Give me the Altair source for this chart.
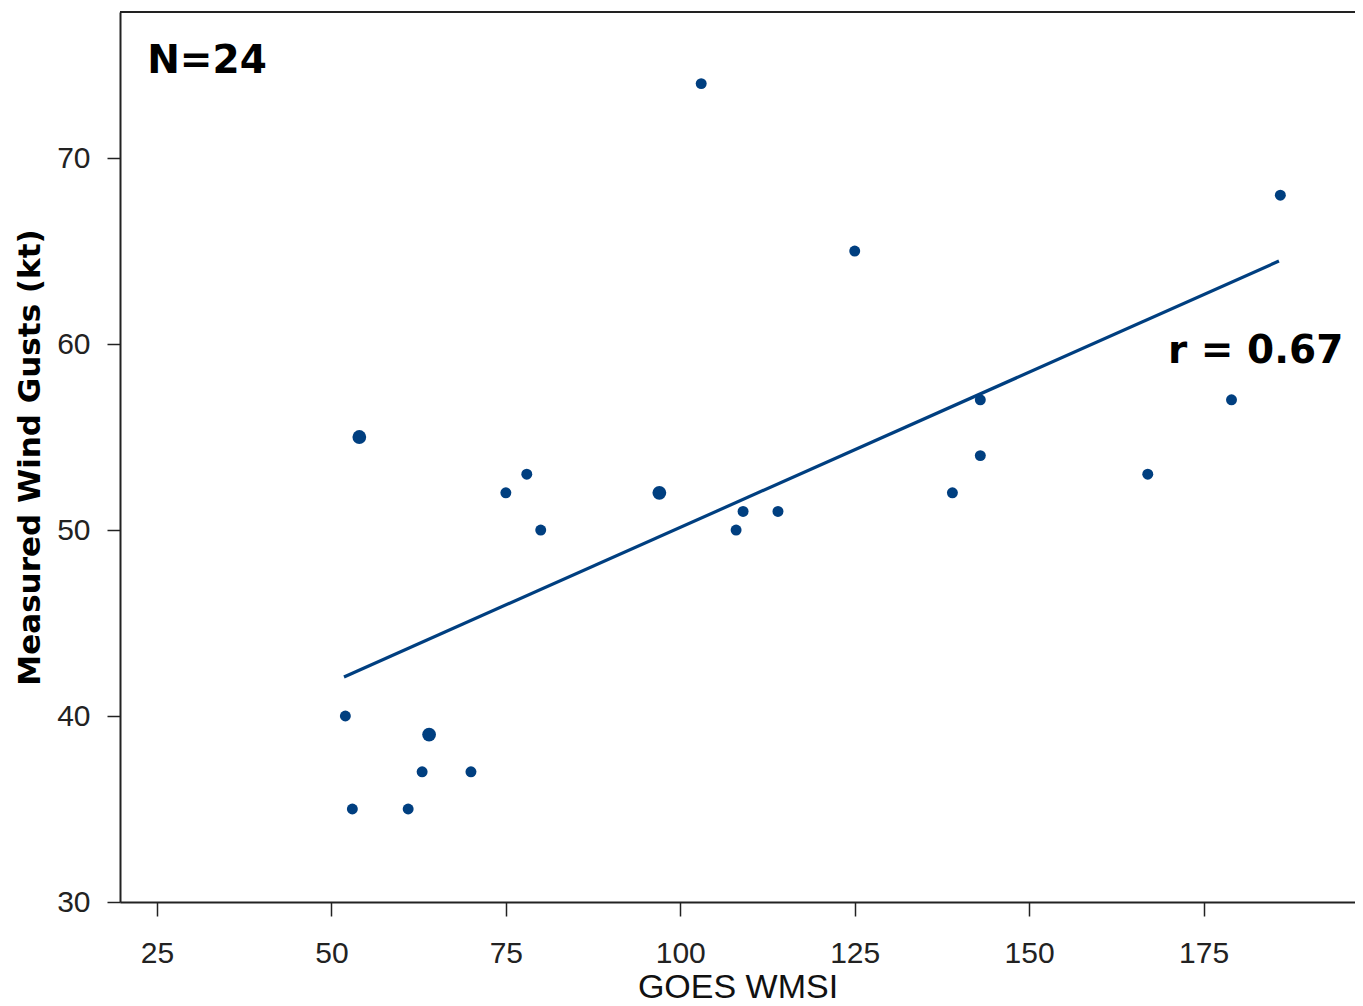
import altair as alt
import pandas as pd

# Scatter data (GOES WMSI vs measured wind gusts)
wmsi = [52, 53, 54, 61, 63, 64, 70, 75, 78, 80, 97, 103, 108, 109, 114, 125, 139, 143, 143, 167, 179, 186]
gust = [40, 35, 55, 35, 37, 39, 37, 52, 53, 50, 52, 74, 50, 51, 51, 65, 52, 57, 54, 53, 57, 68]
dot_size = [1, 1, 2, 1, 1, 2, 1, 1, 1, 1, 2, 1, 1, 1, 1, 1, 1, 1, 1, 1, 1, 1]

# Fitted line end points
fit_x = [51.8, 185.8]
fit_y = [42.1, 64.46]

# Annotations
ann_text = ["N=24", "r = 0.67"]
ann_x = [23.6, 169.9]
ann_y = [74.57, 58.98]

x_ticks = [25, 50, 75, 100, 125, 150, 175]
y_ticks = [30, 40, 50, 60, 70]

COLOR = "#003f80"
W, H = 1235, 890

pts = pd.DataFrame({"x": wmsi, "y": gust, "s": dot_size})
fit = pd.DataFrame({"x": fit_x, "y": fit_y})
ann = pd.DataFrame({"t": ann_text, "x": ann_x, "y": ann_y})

xscale = alt.Scale(domain=[19.7, 196.7], nice=False, zero=False)
yscale = alt.Scale(domain=[30, 77.85], nice=False, zero=False)

xaxis = alt.Axis(values=x_ticks, title="GOES WMSI", grid=False, tickSize=14,
                 labelPadding=22, labelFont="Liberation Sans", labelFontSize=30,
                 labelColor="#222", titleFont="Liberation Sans", titleFontSize=34,
                 titleFontWeight="normal", titleColor="#111", titlePadding=2,
                 domainColor="#222", domainWidth=2, tickColor="#222", tickWidth=1.5)
yaxis = alt.Axis(values=y_ticks, title="Measured Wind Gusts (kt)", grid=False, tickSize=13,
                 labelPadding=17, labelFont="Liberation Sans", labelFontSize=30,
                 labelColor="#222", titleFont="DejaVu Sans", titleFontSize=31,
                 titleFontWeight="bold", titleColor="#000", titlePadding=10,
                 domainColor="#222", domainWidth=2, tickColor="#222", tickWidth=1.5)

points = alt.Chart(pts).mark_circle(color=COLOR, opacity=1).encode(
    x=alt.X("x:Q", scale=xscale, axis=xaxis),
    y=alt.Y("y:Q", scale=yscale, axis=yaxis),
    size=alt.Size("s:Q", scale=alt.Scale(domain=[1, 2], range=[120, 190]), legend=None),
)

line = alt.Chart(fit).mark_line(color=COLOR, strokeWidth=3.2).encode(
    x=alt.X("x:Q", scale=xscale),
    y=alt.Y("y:Q", scale=yscale),
)

text = alt.Chart(ann).mark_text(font="DejaVu Sans", fontSize=39, fontWeight="bold",
                                align="left", baseline="alphabetic", color="#000").encode(
    x=alt.X("x:Q", scale=xscale),
    y=alt.Y("y:Q", scale=yscale),
    text="t:N",
)

top_border = alt.Chart(pd.DataFrame({"a": [0]})).mark_rule(color="#222", strokeWidth=2).encode(
    x=alt.value(0), x2=alt.value(W), y=alt.value(0)
)

chart = alt.layer(line, points, text, top_border).properties(
    width=W, height=H,
    autosize=alt.AutoSizeParams(type="none"),
    padding={"left": 112, "top": 4, "right": 0, "bottom": 102},
).configure_view(stroke=None).configure(background="white")

chart.save("out.html", embed_options={"renderer": "svg", "actions": False})
